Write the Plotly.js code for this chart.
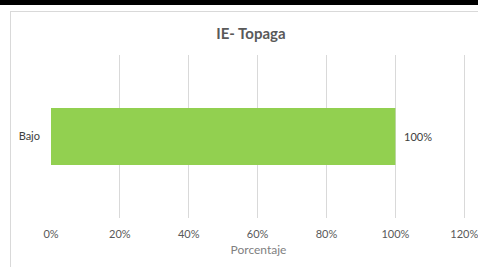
<!DOCTYPE html>
<html>
<head>
<meta charset="utf-8">
<script src="https://cdn.plot.ly/plotly-3.0.1.min.js"></script>
<style>
html,body{margin:0;padding:0;background:#fff;width:478px;height:267px;overflow:hidden;position:relative;}
#topbar{position:absolute;left:0;top:0;width:478px;height:5px;background:#000;z-index:2;}
#frame{position:absolute;left:10px;top:11px;width:480px;height:270px;border:1px solid #d9d9d9;box-sizing:border-box;z-index:2;pointer-events:none;}
#chart{position:absolute;left:0;top:0;width:478px;height:267px;}
</style>
</head>
<body>
<div id="topbar"></div>
<div id="frame"></div>
<div id="chart"></div>
<script>
const categories = ['Bajo'];
const values = [1.0];
const chartTitle = 'IE- Topaga';
const xTitle = 'Porcentaje';

const trace = {
  type: 'bar',
  orientation: 'h',
  y: categories,
  x: values,
  marker: {color: '#92D050'},
  width: 0.35,
  text: values.map(v => '  ' + Math.round(v*100) + '%'),
  textposition: 'outside',
  textfont: {family: 'Lato, "Open Sans", sans-serif', size: 11, color: '#404040'},
  cliponaxis: false,
  hoverinfo: 'none'
};

const layout = {
  width: 478, height: 267,
  margin: {l: 51, r: 12, t: 55, b: 49},
  paper_bgcolor: '#ffffff',
  plot_bgcolor: '#ffffff',
  font: {family: 'Lato, "Open Sans", sans-serif', color: '#595959', size: 11},
  title: {text: '<b>' + chartTitle + '</b>', x: 0.525, xanchor: 'center', y: 0.875, yanchor: 'middle',
          font: {size: 15, color: '#595959', family: 'Lato, "Open Sans", sans-serif'}},
  xaxis: {
    range: [0, 1.205], tickvals: [0, 0.2, 0.4, 0.6, 0.8, 1.0, 1.2], tickformat: '.0%',
    showgrid: true, gridcolor: '#d9d9d9', gridwidth: 1,
    zeroline: false, showline: false, ticks: '',
    tickfont: {size: 11, color: '#595959'},
    ticklabelstandoff: 8,
    ticklabeloverflow: 'allow',
    automargin: false,
    title: {text: xTitle, font: {size: 12, color: '#7f7f7f'}, standoff: 6}
  },
  yaxis: {
    showgrid: false, zeroline: false, showline: false, ticks: '',
    tickfont: {size: 11, color: '#404040'},
    ticklabelstandoff: 10
  },
  showlegend: false
};

Plotly.newPlot('chart', [trace], layout, {displayModeBar: false, staticPlot: true});
</script>
</body>
</html>
